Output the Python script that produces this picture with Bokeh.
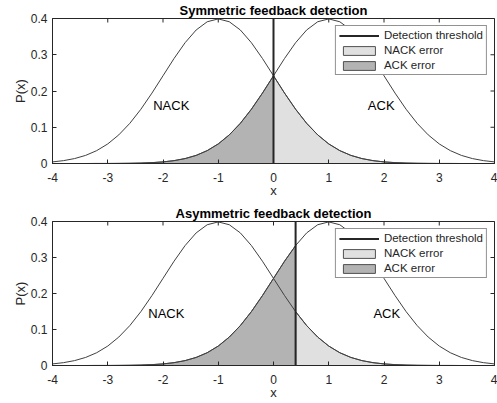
import math
from bokeh.plotting import figure
from bokeh.layouts import column
from bokeh.models import FixedTicker, Range1d, Label, Legend, LegendItem
from bokeh.embed import file_html
from bokeh.resources import INLINE

# ---------------- data ----------------
x_vals = [-4.0, -3.8, -3.6, -3.4, -3.2, -3.0, -2.8, -2.6, -2.4, -2.2,
          -2.0, -1.8, -1.6, -1.4, -1.2, -1.0, -0.8, -0.6, -0.4, -0.2,
          0.0, 0.2, 0.4, 0.6, 0.8, 1.0, 1.2, 1.4, 1.6, 1.8,
          2.0, 2.2, 2.4, 2.6, 2.8, 3.0, 3.2, 3.4, 3.6, 3.8, 4.0]

nack_pdf = [0.0044, 0.0079, 0.0136, 0.0224, 0.0355, 0.0540, 0.0790, 0.1109, 0.1497, 0.1942,
            0.2420, 0.2897, 0.3332, 0.3683, 0.3910, 0.3989, 0.3910, 0.3683, 0.3332, 0.2897,
            0.2420, 0.1942, 0.1497, 0.1109, 0.0790, 0.0540, 0.0355, 0.0224, 0.0136, 0.0079,
            0.0044, 0.0024, 0.0012, 0.0006, 0.0003, 0.0001, 0.0001, 0.0, 0.0, 0.0, 0.0]

ack_pdf = [0.0, 0.0, 0.0, 0.0, 0.0001, 0.0001, 0.0003, 0.0006, 0.0012, 0.0024,
           0.0044, 0.0079, 0.0136, 0.0224, 0.0355, 0.0540, 0.0790, 0.1109, 0.1497, 0.1942,
           0.2420, 0.2897, 0.3332, 0.3683, 0.3910, 0.3989, 0.3910, 0.3683, 0.3332, 0.2897,
           0.2420, 0.1942, 0.1497, 0.1109, 0.0790, 0.0540, 0.0355, 0.0224, 0.0136, 0.0079, 0.0044]

titles = ["Symmetric feedback detection", "Asymmetric feedback detection"]
thresholds = [0.0, 0.4]

nack_label_x = [-1.85, -1.94]
nack_label_y = [0.16, 0.145]
ack_label_x = [1.95, 2.05]
ack_label_y = [0.16, 0.145]

x_ticks = [-4, -3, -2, -1, 0, 1, 2, 3, 4]
x_tick_labels = ["-4", "-3", "-2", "-1", "0", "1", "2", "3", "4"]
y_ticks = [0, 0.1, 0.2, 0.3, 0.4]
y_tick_labels = ["0", "0.1", "0.2", "0.3", "0.4"]

legend_labels = ["Detection threshold", "NACK error", "ACK error"]

X_MIN, X_MAX = -4, 4
Y_MIN, Y_MAX = 0, 0.4

# ---------------- style ----------------
FONT = "Liberation Sans"
AX = "#262626"
CURVE = "#404040"
LIGHT = "#e0e0e0"
DARK = "#b3b3b3"
EDGE = "#505050"


def make_panel(i, height, border_top, border_bottom):
    p = figure(width=497, height=height,
               x_range=Range1d(X_MIN, X_MAX), y_range=Range1d(Y_MIN, Y_MAX),
               output_backend="svg", toolbar_location=None,
               min_border_left=52, min_border_right=3,
               min_border_top=border_top, min_border_bottom=border_bottom)
    p.grid.visible = False
    p.outline_line_color = AX
    p.outline_line_width = 1
    p.background_fill_color = "white"

    p.title.text = titles[i]
    p.title.align = "center"
    p.title.text_font = FONT
    p.title.text_font_size = "13px"
    p.title.text_font_style = "bold"
    p.title.text_color = "black"
    p.title.standoff = 1

    thr = thresholds[i]

    # shaded error areas
    lx = [x for x in x_vals if x >= thr]
    ly = [v for x, v in zip(x_vals, nack_pdf) if x >= thr]
    dx = [x for x in x_vals if x <= thr]
    dy = [v for x, v in zip(x_vals, ack_pdf) if x <= thr]
    light = p.patch([lx[0]] + lx + [lx[-1]], [0] + ly + [0],
                    fill_color=LIGHT, line_color=EDGE, line_width=1)
    dark = p.patch([dx[0]] + dx + [dx[-1]], [0] + dy + [0],
                   fill_color=DARK, line_color=EDGE, line_width=1)

    # pdf curves
    p.line(x_vals, nack_pdf, line_color=CURVE, line_width=1)
    p.line(x_vals, ack_pdf, line_color=CURVE, line_width=1)

    # threshold
    thr_r = p.segment(x0=[thr], y0=[Y_MIN], x1=[thr], y1=[Y_MAX],
                      line_color=AX, line_width=2)

    # mirrored inner ticks on top and right edges (clipped to the frame)
    p.scatter(x=x_ticks, y=[Y_MAX] * len(x_ticks), marker="dash", angle=math.pi / 2,
              size=8, line_color=AX, line_width=1)
    p.scatter(x=[X_MAX] * len(y_ticks), y=y_ticks, marker="dash",
              size=8, line_color=AX, line_width=1)

    # curve labels
    p.add_layout(Label(x=nack_label_x[i], y=nack_label_y[i], text="NACK",
                       text_align="center", text_baseline="middle",
                       text_font=FONT, text_font_size="13px", text_color="black"))
    p.add_layout(Label(x=ack_label_x[i], y=ack_label_y[i], text="ACK",
                       text_align="center", text_baseline="middle",
                       text_font=FONT, text_font_size="13px", text_color="black"))

    # axes
    for ax in (p.xaxis[0], p.yaxis[0]):
        ax.axis_line_color = AX
        ax.major_tick_line_color = AX
        ax.major_tick_in = 4
        ax.major_tick_out = 0
        ax.minor_tick_line_color = None
        ax.major_label_text_font = FONT
        ax.major_label_text_font_size = "12px"
        ax.major_label_text_color = AX
        ax.axis_label_text_font = FONT
        ax.axis_label_text_font_size = "13px"
        ax.axis_label_text_font_style = "normal"
        ax.axis_label_text_color = AX
    p.xaxis.ticker = FixedTicker(ticks=x_ticks)
    p.xaxis.major_label_overrides = dict(zip(x_ticks, x_tick_labels))
    p.xaxis.major_label_standoff = 9
    p.xaxis.axis_label = "x"
    p.xaxis.axis_label_standoff = -2
    p.yaxis.ticker = FixedTicker(ticks=y_ticks)
    p.yaxis.major_label_overrides = dict(zip(y_ticks, y_tick_labels))
    p.yaxis.major_label_standoff = 5
    p.yaxis.axis_label = "P(x)"
    p.yaxis.axis_label_standoff = 0

    legend = Legend(items=[LegendItem(label=legend_labels[0], renderers=[thr_r]),
                           LegendItem(label=legend_labels[1], renderers=[light]),
                           LegendItem(label=legend_labels[2], renderers=[dark])],
                    location="top_right")
    legend.border_line_color = AX
    legend.border_line_width = 1
    legend.background_fill_color = "white"
    legend.background_fill_alpha = 1
    legend.label_text_font = FONT
    legend.label_text_font_size = "11.5px"
    legend.label_text_color = AX
    legend.glyph_width = 40
    legend.glyph_height = 11
    legend.label_height = 11
    legend.spacing = 3
    legend.padding = 3
    legend.label_standoff = 5
    legend.margin = 7
    p.add_layout(legend)
    return p


p1 = make_panel(0, 200, 17, 37)
p2 = make_panel(1, 203, 21, 38)
layout = column(p1, p2, spacing=0)

open("out.html", "w").write(file_html(layout, INLINE))
